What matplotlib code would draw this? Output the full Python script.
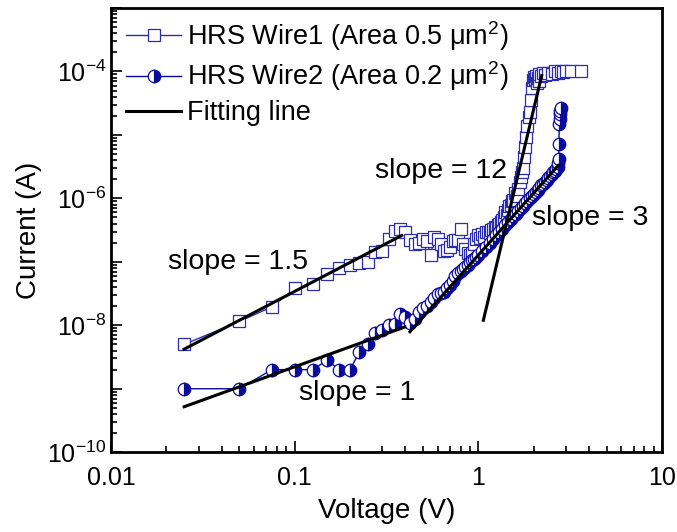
import numpy as np
import matplotlib.pyplot as plt
from matplotlib.ticker import FixedLocator, FuncFormatter, NullFormatter

# ================================
# 1. Fonts
# ================================
plt.rcParams['font.family'] = ['Liberation Sans', 'DejaVu Sans']
plt.rcParams['mathtext.fontset'] = 'custom'
plt.rcParams['mathtext.rm'] = 'Liberation Sans'
plt.rcParams['mathtext.it'] = 'Liberation Sans:italic'
plt.rcParams['mathtext.bf'] = 'Liberation Sans:bold'

# ================================
# 2. Data
# ================================
# HRS Wire1 (squares)
w1_v = [0.025, 0.05, 0.075, 0.1, 0.125, 0.15, 0.175, 0.2, 0.225, 0.25,
        0.275, 0.3, 0.325, 0.35, 0.375, 0.4, 0.425, 0.45, 0.475, 0.5,
        0.525, 0.55, 0.575, 0.6, 0.625, 0.65, 0.675, 0.7, 0.725, 0.75,
        0.775, 0.8, 0.825, 0.85, 0.875, 0.9, 0.925, 0.95, 0.975, 1.0,
        1.025, 1.05, 1.075, 1.1, 1.125, 1.15, 1.175, 1.2, 1.225, 1.25,
        1.275, 1.3, 1.325, 1.35, 1.375, 1.4, 1.425, 1.45, 1.475, 1.5,
        1.525, 1.55, 1.575, 1.6, 1.625, 1.65, 1.675, 1.7, 1.725, 1.75,
        1.775, 1.8, 1.825, 1.85, 1.875, 1.9, 1.925, 1.95, 1.975, 2.0,
        2.025, 2.05, 2.075, 2.1, 2.125, 2.15, 2.2, 2.25, 2.3, 2.4,
        2.5, 2.6, 2.7, 2.8, 2.9, 3.0, 3.2, 3.6]
w1_i = [5e-9, 1.15e-8, 1.95e-8, 3.8e-8, 4.5e-8, 6.5e-8, 8e-8, 8.8e-8, 9.5e-8, 1.0e-7,
        1.45e-7, 1.5e-7, 2.3e-7, 3.1e-7, 3.3e-7, 2.9e-7, 2.2e-7, 1.9e-7, 2.0e-7, 2.3e-7,
        2.1e-7, 1.26e-7, 2.45e-7, 2.3e-7, 1.9e-7, 1.5e-7, 1.55e-7, 1.7e-7, 2.1e-7, 2.2e-7,
        2.2e-7, 3.3e-7, 1.9e-7, 1.6e-7, 1.4e-7, 1.26e-7, 1.4e-7, 1.9e-7, 2.3e-7, 2.6e-7,
        2.4e-7, 2.7e-7, 2.5e-7, 2.9e-7, 3.0e-7, 2.8e-7, 3.2e-7, 3.3e-7, 3.5e-7, 3.4e-7,
        3.8e-7, 4.0e-7, 4.3e-7, 4.6e-7, 5.0e-7, 6.0e-7, 5.5e-7, 6.5e-7, 7.5e-7, 8.0e-7,
        9.0e-7, 9.5e-7, 1.2e-6, 9.5e-7, 1.1e-6, 1.4e-6, 1.8e-6, 2.2e-6, 2.6e-6, 3.0e-6,
        4.5e-6, 6.5e-6, 9.2e-6, 1.4e-5, 1.9e-5, 2.3e-5, 3.5e-5, 5.5e-5, 7.2e-5, 8.1e-5,
        7.5e-5, 8.5e-5, 6.5e-5, 8e-5, 7e-5, 9e-5, 8.5e-5, 9.5e-5, 8.8e-5, 9.5e-5,
        9.2e-5, 1.0e-4, 9.6e-5, 1.0e-4, 9.8e-5, 1.02e-4, 1.0e-4, 1.0e-4]

# HRS Wire2 (half-filled circles)
w2_v = [0.025, 0.05, 0.075, 0.1, 0.125, 0.15, 0.175, 0.2, 0.225, 0.25,
        0.275, 0.3, 0.325, 0.35, 0.375, 0.4, 0.425, 0.45, 0.475, 0.5,
        0.525, 0.55, 0.575, 0.6, 0.625, 0.65, 0.675, 0.7, 0.725, 0.75,
        0.775, 0.8, 0.825, 0.85, 0.875, 0.9, 0.925, 0.95, 0.975, 1.0,
        1.05, 1.1, 1.15, 1.2, 1.25, 1.3, 1.35, 1.4, 1.45, 1.5,
        1.55, 1.6, 1.65, 1.7, 1.75, 1.8, 1.85, 1.9, 1.95, 2.0,
        2.05, 2.1, 2.15, 2.2, 2.25, 2.3, 2.35, 2.4, 2.45, 2.5,
        2.55, 2.6, 2.65, 2.7, 2.72, 2.73, 2.74, 2.76, 2.77, 2.78,
        2.79, 2.8]
w2_i = [1e-9, 1e-9, 2e-9, 2e-9, 2e-9, 2.8e-9, 2e-9, 2e-9, 3.8e-9, 5e-9,
        7.5e-9, 8.3e-9, 1e-8, 1.06e-8, 1.5e-8, 1.35e-8, 1.1e-8, 1.25e-8, 1.6e-8, 1.9e-8,
        2.0e-8, 2.3e-8, 2.7e-8, 3.1e-8, 3.2e-8, 3.4e-8, 3.8e-8, 4.3e-8, 5.0e-8, 6.0e-8,
        6.6e-8, 7.2e-8, 7.8e-8, 8.3e-8, 9.0e-8, 9.8e-8, 1.05e-7, 1.12e-7, 1.2e-7, 1.28e-7,
        1.5e-7, 1.74e-7, 2.0e-7, 2.29e-7, 2.61e-7, 2.96e-7, 3.34e-7, 3.76e-7, 4.2e-7, 4.68e-7,
        5.2e-7, 5.76e-7, 6.36e-7, 7.0e-7, 7.67e-7, 8.4e-7, 9.16e-7, 1.0e-6, 1.08e-6, 1.18e-6,
        1.27e-6, 1.37e-6, 1.48e-6, 1.6e-6, 1.71e-6, 1.84e-6, 1.97e-6, 2.11e-6, 2.25e-6, 2.4e-6,
        2.56e-6, 2.72e-6, 2.9e-6, 3.07e-6, 3.6e-6, 4.2e-6, 7.3e-6, 1.5e-5, 1.8e-5, 2.1e-5,
        2.4e-5, 2.7e-5]

# fitting lines (end points)
fit15_v, fit15_i = [0.025, 0.382], [4.2e-9, 2.6e-7]
fit1_v, fit1_i = [0.025, 0.398], [5.2e-10, 9.4e-9]
fit3_v, fit3_i = [0.424, 2.72], [7.9e-9, 3.3e-6]
fit12_v, fit12_i = [1.064, 2.21], [1.2e-8, 8.6e-5]

# ================================
# 3. Plot
# ================================
fig = plt.figure(figsize=(6.77, 5.32), dpi=100)
ax = fig.add_axes([0.164, 0.150, 0.814, 0.835])

c1 = '#2c2cb0'
c2 = '#0a0a9c'
ax.plot(w1_v, w1_i, color=c1, lw=1, marker='s', ms=8.3, mfc='white', mec=c1, mew=0.9,
        label='HRS Wire1 (Area 0.5 μm$^{2}$)', zorder=2)
ax.plot(w2_v, w2_i, color=c2, lw=1, marker='o', ms=9, fillstyle='right', mfc=c2,
        mfcalt='white', mec=c2, mew=0.9, label='HRS Wire2 (Area 0.2 μm$^{2}$)', zorder=3)
ax.plot(fit15_v, fit15_i, color='black', lw=2.2, label='Fitting line', zorder=4)
for fv, fi in [(fit1_v, fit1_i), (fit3_v, fit3_i), (fit12_v, fit12_i)]:
    ax.plot(fv, fi, color='black', lw=2.2, zorder=4)

ax.set_xscale('log')
ax.set_yscale('log')
ax.set_xlim(0.01, 10)
ax.set_ylim(1e-10, 1e-3)

ax.text(0.049, 9.8e-8, 'slope = 1.5', fontsize=20.5, ha='center', va='center')
ax.text(0.218, 8.5e-10, 'slope = 1', fontsize=20.5, ha='center', va='center')
ax.text(0.625, 2.66e-6, 'slope = 12', fontsize=20.5, ha='center', va='center')
ax.text(4.05, 4.84e-7, 'slope = 3', fontsize=20.5, ha='center', va='center')

ax.set_xlabel('Voltage (V)', fontsize=20, labelpad=6)
ax.set_ylabel('Current (A)', fontsize=20, labelpad=4)

# ticks
ax.yaxis.set_major_locator(FixedLocator([10.0 ** e for e in range(-10, -2)]))
ax.yaxis.set_major_formatter(FuncFormatter(
    lambda y, p: '$10^{%d}$' % round(np.log10(y)) if round(np.log10(y)) % 2 == 0 else ''))
ax.yaxis.set_minor_locator(FixedLocator([m * 10.0 ** e for e in range(-10, -3) for m in range(2, 10)]))
ax.yaxis.set_minor_formatter(NullFormatter())
ax.xaxis.set_major_locator(FixedLocator([0.01, 0.1, 1, 10]))
ax.xaxis.set_major_formatter(FuncFormatter(lambda x, p: '%g' % x))
ax.xaxis.set_minor_locator(FixedLocator([m * 10.0 ** e for e in range(-2, 1) for m in range(2, 10)]))
ax.xaxis.set_minor_formatter(NullFormatter())
ax.tick_params(which='both', direction='in', top=False, right=False, labelsize=18, width=1.2)
ax.tick_params(which='major', length=8)
ax.tick_params(which='minor', length=4)
ax.tick_params(axis='x', which='major', pad=10)
for s in ax.spines.values():
    s.set_linewidth(2)

leg = ax.legend(loc='upper left', bbox_to_anchor=(0.028, 0.975), frameon=False, fontsize=19.5,
                handlelength=2.0, handletextpad=0.25, labelspacing=0.25, borderpad=0,
                borderaxespad=0)

plt.savefig('out.png', dpi=100)
